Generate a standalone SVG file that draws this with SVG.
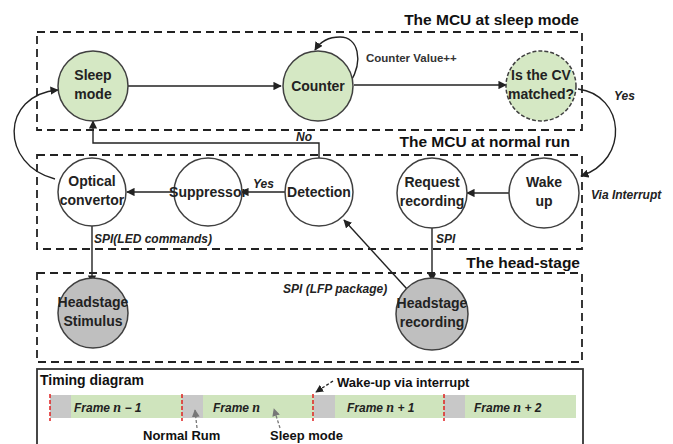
<svg xmlns="http://www.w3.org/2000/svg" width="673" height="444" viewBox="0 0 673 444">
<defs>
<marker id="ah" viewBox="0 0 10 10" refX="9" refY="5" markerWidth="6" markerHeight="6" orient="auto-start-reverse"><path d="M0,0 L10,5 L0,10 z" fill="#222"/></marker>
<marker id="ahg" viewBox="0 0 10 10" refX="9" refY="5" markerWidth="6" markerHeight="6" orient="auto"><path d="M0,0 L10,5 L0,10 z" fill="#777"/></marker>
<style>
.box{fill:none;stroke:#222;stroke-width:1.8;stroke-dasharray:8,5}
.node{stroke:#404040;stroke-width:1.5}
.g{fill:#d5e8c4}
.w{fill:#fff}
.s{fill:#bfbfbf}
.t{font-family:"Liberation Sans",Arial,sans-serif;font-weight:bold;font-size:14px;fill:#222;text-anchor:middle}
.title{font-family:"Liberation Sans",Arial,sans-serif;font-weight:bold;font-size:15.5px;fill:#111;text-anchor:end}
.lab{font-family:"Liberation Sans",Arial,sans-serif;font-weight:bold;font-style:italic;font-size:12px;fill:#222}
.e{fill:none;stroke:#222;stroke-width:1.4}
.fr{font-family:"Liberation Sans",Arial,sans-serif;font-style:italic;font-weight:bold;font-size:12px;fill:#222}
.m{font-family:"Liberation Serif",serif;font-style:italic;font-weight:bold;font-size:14px}
.red{stroke:#e02020;stroke-width:1.5;stroke-dasharray:4,2}
</style>
</defs>
<rect width="673" height="444" fill="#fff"/>
<g id="frames">
<rect class="box" x="37" y="32" width="545" height="98"/>
<rect class="box" x="37" y="155" width="545" height="94"/>
<rect class="box" x="37" y="273" width="545" height="89"/>
<text class="title" x="579" y="25">The MCU at sleep mode</text>
<text class="title" x="570" y="147">The MCU at normal run</text>
<text class="title" x="580" y="268">The head-stage</text>
</g>
<g id="connectors">
<path class="e" d="M128,86 L281,86" marker-end="url(#ah)"/>
<path class="e" d="M354,85 L506,85" marker-end="url(#ah)"/>
<path class="e" d="M350,83 C364,60 358,37 340,37 C328,37 320,42 315,50" marker-end="url(#ah)"/>
<path class="e" d="M578,89 C625,95 630,160 581,176" marker-end="url(#ah)"/>
<path class="e" d="M509,193 L467,193" marker-end="url(#ah)"/>
<path class="e" d="M285,192 L241,192" marker-end="url(#ah)"/>
<path class="e" d="M174,192 L127,192" marker-end="url(#ah)"/>
<path class="e" d="M319,158 L319,143 L93,143 L93,121" marker-end="url(#ah)"/>
<path class="e" d="M55,179 C0,165 0,95 58,90" marker-end="url(#ah)"/>
<path class="e" d="M92,226 L92,283" marker-end="url(#ah)"/>
<path class="e" d="M432,228 L432,281" marker-end="url(#ah)"/>
<path class="e" d="M407,289 L344,220" marker-end="url(#ah)"/>
<text class="lab" x="366" y="62" style="font-style:normal;font-size:11.5px;fill:#333">Counter Value++</text>
<text class="lab" x="614" y="100">Yes</text>
<text class="lab" x="591" y="199">Via Interrupt</text>
<text class="lab" x="253" y="188">Yes</text>
<text class="lab" x="296" y="141">No</text>
<text class="lab" x="94" y="243">SPI(LED commands)</text>
<text class="lab" x="436" y="243">SPI</text>
<text class="lab" x="283" y="293">SPI (LFP package)</text>
</g>
<g id="sleep"><circle class="node g" cx="93" cy="86" r="35"/><text class="t" x="93" y="80">Sleep</text><text class="t" x="93" y="99">mode</text></g>
<g id="counter"><circle class="node g" cx="318" cy="86" r="35"/><text class="t" x="318" y="91">Counter</text></g>
<g id="cv"><circle class="node g" cx="541" cy="86" r="35" stroke-dasharray="4,2"/><text class="t" x="541" y="80">Is the CV</text><text class="t" x="541" y="99">matched?</text></g>
<g id="optical"><circle class="node w" cx="92" cy="192" r="34"/><text class="t" x="92" y="186">Optical</text><text class="t" x="92" y="205">convertor</text></g>
<g id="suppressor"><circle class="node w" cx="208" cy="192" r="34"/><text class="t" x="208" y="197">Suppressor</text></g>
<g id="detection"><circle class="node w" cx="319" cy="192" r="34"/><text class="t" x="319" y="197">Detection</text></g>
<g id="request"><circle class="node w" cx="432" cy="193" r="35"/><text class="t" x="432" y="187">Request</text><text class="t" x="432" y="206">recording</text></g>
<g id="wake"><circle class="node w" cx="544" cy="193" r="35"/><text class="t" x="544" y="187">Wake</text><text class="t" x="544" y="206">up</text></g>
<g id="stimulus"><circle class="node s" cx="93" cy="313" r="35"/><text class="t" x="93" y="307">Headstage</text><text class="t" x="93" y="326">Stimulus</text></g>
<g id="hsrec"><circle class="node s" cx="432" cy="314" r="36"/><text class="t" x="432" y="308">Headstage</text><text class="t" x="432" y="327">recording</text></g>
<g id="timing">
<rect x="37" y="369" width="546" height="80" fill="#fff" stroke="#333" stroke-width="1.8"/>
<text class="title" x="40" y="385" style="text-anchor:start;font-size:14px">Timing diagram</text>
<rect x="50" y="395" width="21" height="23" fill="#c8c8c8"/>
<rect x="71" y="395" width="111" height="23" fill="#cfe4bd"/>
<rect x="182" y="395" width="21" height="23" fill="#c8c8c8"/>
<rect x="203" y="395" width="111" height="23" fill="#cfe4bd"/>
<rect x="314" y="395" width="21" height="23" fill="#c8c8c8"/>
<rect x="335" y="395" width="109" height="23" fill="#cfe4bd"/>
<rect x="444" y="395" width="21" height="23" fill="#c8c8c8"/>
<rect x="465" y="395" width="111" height="23" fill="#cfe4bd"/>
<line class="red" x1="50" y1="394" x2="50" y2="421"/>
<line class="red" x1="182" y1="394" x2="182" y2="421"/>
<line class="red" x1="313" y1="394" x2="313" y2="421"/>
<line class="red" x1="444" y1="394" x2="444" y2="421"/>
<text class="fr" x="74" y="412">Frame <tspan class="m">n</tspan> − 1</text>
<text class="fr" x="213" y="412">Frame <tspan class="m">n</tspan></text>
<text class="fr" x="347" y="412">Frame <tspan class="m">n</tspan> + 1</text>
<text class="fr" x="474" y="412">Frame <tspan class="m">n</tspan> + 2</text>
<path d="M333,381 L316,392" stroke="#222" stroke-width="1.3" stroke-dasharray="3,2" marker-end="url(#ah)"/>
<text class="title" x="337" y="387" style="text-anchor:start;font-size:13px">Wake-up via interrupt</text>
<path d="M197,428 L195,410" stroke="#777" stroke-width="1.3" stroke-dasharray="3,2" marker-end="url(#ahg)"/>
<path d="M280,428 L274,409" stroke="#777" stroke-width="1.3" stroke-dasharray="3,2" marker-end="url(#ahg)"/>
<text class="title" x="143" y="440" style="text-anchor:start;font-size:13px">Normal Rum</text>
<text class="title" x="270" y="440" style="text-anchor:start;font-size:13px">Sleep mode</text>
</g>
</svg>
